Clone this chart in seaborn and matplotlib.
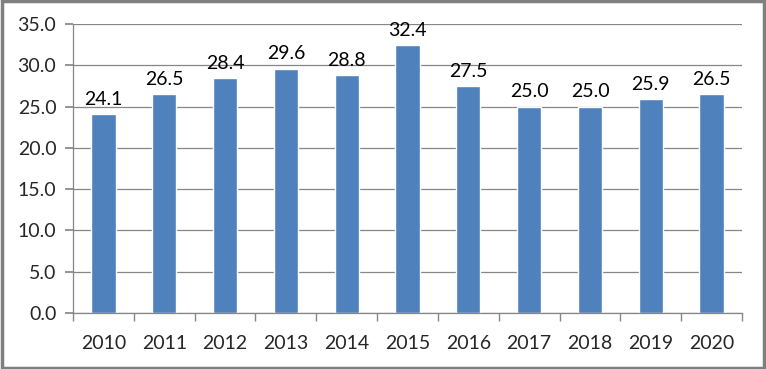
import pandas as pd
import seaborn as sns
import matplotlib.pyplot as plt
from matplotlib.patches import Rectangle

years = ["2010", "2011", "2012", "2013", "2014", "2015", "2016", "2017", "2018", "2019", "2020"]
values = [24.1, 26.5, 28.4, 29.6, 28.8, 32.4, 27.5, 25.0, 25.0, 25.9, 26.5]

df = pd.DataFrame({"year": years, "value": values})

sns.set_theme(style="white")
plt.rcParams["font.family"] = ["Lato", "DejaVu Sans"]

fig = plt.figure(figsize=(7.66, 3.69), dpi=100)
ax = fig.add_axes([73 / 766, 1 - 313 / 369, (742 - 73) / 766, (313 - 24) / 369])

sns.barplot(data=df, x="year", y="value", color="#4F81BD", saturation=1,
            width=0.4, ax=ax)

for i, v in enumerate(values):
    ax.text(i, v + 0.75, f"{v:.1f}", ha="center", va="bottom", fontsize=14, color="#000000")

ax.set_ylim(0, 35)
ax.set_xlim(-0.5, len(years) - 0.5)
ax.set_yticks([0, 5, 10, 15, 20, 25, 30, 35])
ax.set_yticklabels([f"{t:.1f}" for t in [0, 5, 10, 15, 20, 25, 30, 35]])
ax.yaxis.grid(True, color="#868686", linewidth=0.9)
ax.set_axisbelow(True)
ax.set_xlabel("")
ax.set_ylabel("")

for s in ["top", "right"]:
    ax.spines[s].set_visible(False)
for s in ["left", "bottom"]:
    ax.spines[s].set_color("#868686")
    ax.spines[s].set_linewidth(0.9)

ax.tick_params(axis="y", left=True, length=6, color="#868686", labelsize=14, pad=6)
ax.tick_params(axis="x", bottom=False, labelsize=14, pad=10)
ax.set_xticks(range(len(years)), minor=False)
ax.set_xticks([i - 0.5 for i in range(len(years) + 1)], minor=True)
ax.tick_params(axis="x", which="minor", bottom=True, length=6, color="#868686")

fig.patches.append(Rectangle((0.002, 0.004), 0.996, 0.992, transform=fig.transFigure,
                             fill=False, edgecolor="#7F7F7F", linewidth=2.5))

fig.savefig("out.png", dpi=100)
